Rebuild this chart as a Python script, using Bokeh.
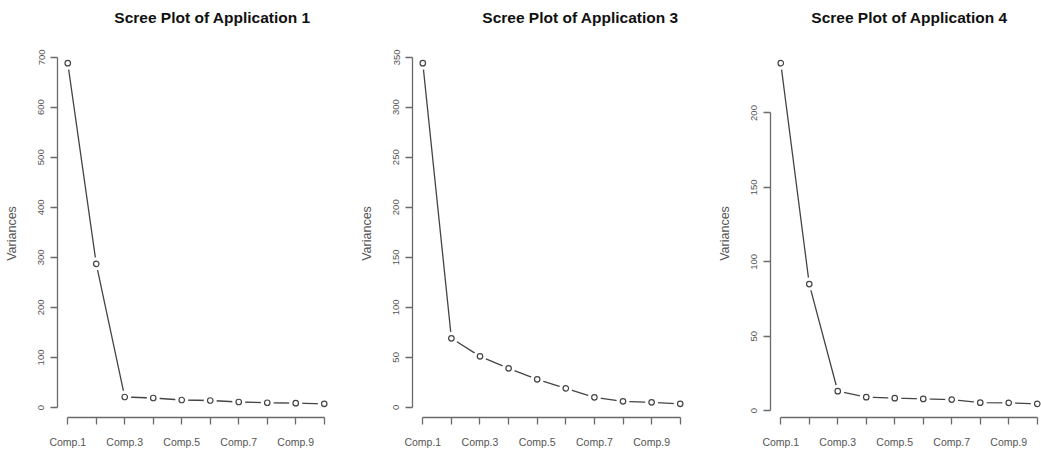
from bokeh.plotting import figure
from bokeh.layouts import row, column
from bokeh.models import Range1d, FixedTicker, Label
from bokeh.embed import file_html
from bokeh.resources import INLINE

# Principal components on the x axis
comp_index = [1, 2, 3, 4, 5, 6, 7, 8, 9, 10]
comp_labels = ["Comp.1", "Comp.2", "Comp.3", "Comp.4", "Comp.5",
               "Comp.6", "Comp.7", "Comp.8", "Comp.9", "Comp.10"]

# Variance of each component, per application
app1_variances = [688, 287, 21, 19, 15, 14, 11, 9.5, 8.7, 7.3]
app3_variances = [344, 69, 51, 39, 28, 19, 10, 6, 5, 3.5]
app4_variances = [233.5, 85, 13, 9, 8.3, 7.8, 7.4, 5.3, 5.2, 4.5]

# Tick values of the variance axes
app1_yticks = [0, 100, 200, 300, 400, 500, 600, 700]
app3_yticks = [0, 50, 100, 150, 200, 250, 300, 350]
app4_yticks = [0, 50, 100, 150, 200]

titles = ["Scree Plot of Application 1",
          "Scree Plot of Application 3",
          "Scree Plot of Application 4"]

FONT = "Liberation Sans"
LINE = "#444444"
AXIS = "#6a6a6a"
LABEL = "#555555"

W, H = 1041, 454
TITLE_H = 49          # band holding the titles
PLOT_H = 368          # height of each data region
X_PAD = 0.04 * (comp_index[-1] - comp_index[0])

# panel geometry: figure width, left border, frame width
panels = [(355, 57, 277), (355, 57, 278), (331, 60, 271)]
# title centre, measured from each frame's left edge
title_cx = [155, 168, 139]


def scree(values, yticks, width, left, frame_w, full_frame_w=None):
    lo, hi = min(values), max(values)
    pad = 0.04 * (hi - lo)
    x0 = comp_index[0] - X_PAD
    x1 = comp_index[-1] + X_PAD
    if full_frame_w is not None:
        # frame truncated on the right: keep the same px-per-unit scale
        x1 = x0 + (x1 - x0) * frame_w / full_frame_w
    p = figure(width=width, height=H - TITLE_H, output_backend="svg", toolbar_location=None,
               x_range=Range1d(x0, x1), y_range=Range1d(lo - pad, hi + pad),
               min_border_left=left, min_border_right=width - left - frame_w,
               min_border_top=0, min_border_bottom=H - TITLE_H - PLOT_H)
    p.background_fill_color = "white"
    p.border_fill_color = "white"
    p.outline_line_color = None
    p.grid.visible = False

    p.line(comp_index, values, line_color=LINE, line_width=1.3)
    p.scatter(comp_index, values, size=13, fill_color="white", line_color=None)
    p.scatter(comp_index, values, size=5.5, fill_color="white", line_color=LINE, line_width=1.2)

    xa = p.xaxis[0]
    xa.ticker = FixedTicker(ticks=comp_index)
    xa.major_label_overrides = {i: (lab if i % 2 == 1 else "") for i, lab in zip(comp_index, comp_labels)}
    xa.bounds = (comp_index[0], comp_index[-1])

    ya = p.yaxis[0]
    ya.ticker = FixedTicker(ticks=yticks)
    ya.bounds = (yticks[0], yticks[-1])
    ya.major_label_orientation = "vertical"
    ya.axis_label = "Variances"
    ya.axis_label_text_font = FONT
    ya.axis_label_text_font_size = "12.5px"
    ya.axis_label_text_font_style = "normal"
    ya.axis_label_text_color = LABEL
    ya.axis_label_standoff = 17

    for ax in (xa, ya):
        ax.axis_line_color = AXIS
        ax.axis_line_width = 1.3
        ax.major_tick_line_color = AXIS
        ax.major_tick_line_width = 1.3
        ax.major_tick_out = 7
        ax.major_tick_in = 0
        ax.minor_tick_line_color = None
        ax.major_label_text_font = FONT
        ax.major_label_text_color = LABEL
    xa.major_label_text_font_size = "10.5px"
    xa.major_label_standoff = 11
    ya.major_label_text_font_size = "9.5px"
    ya.major_label_standoff = 6
    return p


# title band across the full width
head = figure(width=W, height=TITLE_H, output_backend="svg", toolbar_location=None,
              x_range=Range1d(0, W), y_range=Range1d(0, TITLE_H), min_border=0)
head.axis.visible = False
head.grid.visible = False
head.outline_line_color = None
head.background_fill_color = "white"
head.border_fill_color = "white"
x_origin = 0
for (width, left, frame_w), cx, text in zip(panels, title_cx, titles):
    head.add_layout(Label(x=x_origin + left + cx, y=TITLE_H - 16.5, x_units="screen", y_units="screen",
                          text=text, text_align="center", text_baseline="middle",
                          text_font=FONT, text_font_size="15.5px", text_font_style="bold",
                          text_color="#111111"))
    x_origin += width

p1 = scree(app1_variances, app1_yticks, *panels[0])
p2 = scree(app3_variances, app3_yticks, *panels[1])
p3 = scree(app4_variances, app4_yticks, *panels[2], full_frame_w=277)

layout = column(head, row(p1, p2, p3))
open("out.html", "w").write(file_html(layout, INLINE))
